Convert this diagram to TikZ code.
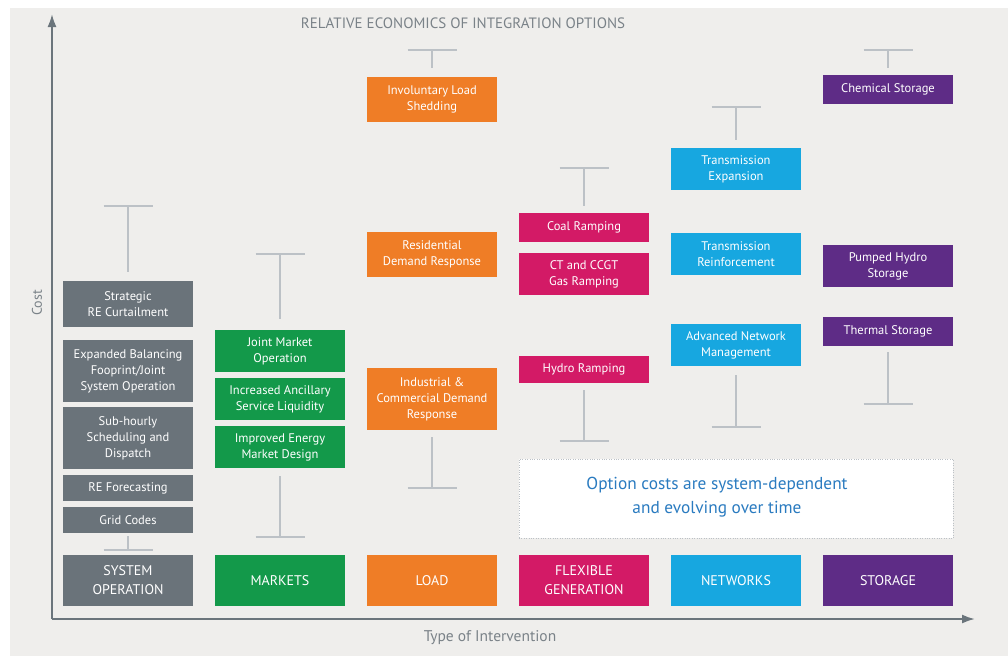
\documentclass[tikz,border=0pt]{standalone}
\usepackage{fontspec}
\setmainfont{PT Sans}
\usetikzlibrary{arrows.meta}

\definecolor{BgGray}{RGB}{239,238,236}
\definecolor{AxisGray}{RGB}{107,117,124}
\definecolor{LabelGray}{RGB}{122,130,136}
\definecolor{WhiskerGray}{RGB}{188,193,198}
\definecolor{SOGray}{RGB}{106,115,122}
\definecolor{MktGreen}{RGB}{19,153,74}
\definecolor{LoadOrange}{RGB}{239,125,38}
\definecolor{FlexMagenta}{RGB}{211,26,102}
\definecolor{NetCyan}{RGB}{23,167,224}
\definecolor{StorPurple}{RGB}{94,44,134}
\definecolor{NoteBlue}{RGB}{42,123,192}

\begin{document}
\begin{tikzpicture}[x=1pt,y=-1pt]
  \tikzset{BoxStyle/.style = {shape          = rectangle,
                              text           = white,
                              inner sep      = 0pt,
                              outer sep      = 0pt,
                              minimum width  = 130pt,
                              align          = center,
                              font           = \fontsize{12.5}{16}\selectfont}}
  \tikzset{CategoryStyle/.style = {BoxStyle,
                              minimum height = 51pt,
                              font           = \fontsize{14}{19}\selectfont}}
  \tikzset{SOStyle/.style    = {BoxStyle, fill = SOGray}}
  \tikzset{MktStyle/.style   = {BoxStyle, fill = MktGreen}}
  \tikzset{LoadStyle/.style  = {BoxStyle, fill = LoadOrange}}
  \tikzset{FlexStyle/.style  = {BoxStyle, fill = FlexMagenta}}
  \tikzset{NetStyle/.style   = {BoxStyle, fill = NetCyan}}
  \tikzset{StorStyle/.style  = {BoxStyle, fill = StorPurple}}
  \tikzset{WhiskerStyle/.style = {line width = 1.5pt,
                                  draw       = WhiskerGray}}
  \tikzset{AxisStyle/.style  = {line width = 2pt,
                                draw       = AxisGray,
                                -{Latex[length=13pt,width=9pt]}}}
  \tikzset{AxisLabelStyle/.style = {text = LabelGray,
                                    font = \fontsize{15}{18}\selectfont}}

\useasboundingbox (0,0) rectangle (1008,656);
\fill[white] (0,0) rectangle (1008,656);
\fill[BgGray] (10,8) rectangle (1008,656);

% axes
\coordinate (O)  at (52,619);
\coordinate (Y1) at (52,14);
\coordinate (X1) at (975,619);
\draw[AxisStyle] (O) -- (Y1);
\draw[AxisStyle] (O) -- (X1);

\node[AxisLabelStyle] (title) at (463,23) {RELATIVE ECONOMICS OF INTEGRATION OPTIONS};
\node[AxisLabelStyle, rotate=90, font=\fontsize{14}{17}\selectfont] (cost) at (37,303) {Cost};
\node[AxisLabelStyle, font=\fontsize{15.5}{18}\selectfont] (type) at (490,637.5) {Type of Intervention};

% categories
\node[CategoryStyle, fill=SOGray]      (so)   at (128,580.5) {SYSTEM\\OPERATION};
\node[CategoryStyle, fill=MktGreen]    (mkt)  at (280,580.5) {MARKETS};
\node[CategoryStyle, fill=LoadOrange]  (load) at (432,580.5) {LOAD};
\node[CategoryStyle, fill=FlexMagenta] (flex) at (584,580.5) {FLEXIBLE\\GENERATION};
\node[CategoryStyle, fill=NetCyan]     (net)  at (736,580.5) {NETWORKS};
\node[CategoryStyle, fill=StorPurple]  (stor) at (888,580.5) {STORAGE};

% system operation
\node[SOStyle, minimum height=46pt] (curtail)   at (128,304) {Strategic\\RE Curtailment};
\node[SOStyle, minimum height=62pt] (balancing) at (128,371) {Expanded Balancing\\Fooprint/Joint\\System Operation};
\node[SOStyle, minimum height=62pt] (subhourly) at (128,438) {Sub-hourly\\Scheduling and\\Dispatch};
\node[SOStyle, minimum height=26pt] (forecast)  at (128,488) {RE Forecasting};
\node[SOStyle, minimum height=26pt] (gridcodes) at (128,520) {Grid Codes};

% markets
\node[MktStyle, minimum height=42pt] (jointmkt)  at (280,351) {Joint Market\\Operation};
\node[MktStyle, minimum height=42pt] (ancillary) at (280,399) {Increased Ancillary\\Service Liquidity};
\node[MktStyle, minimum height=42pt] (energymkt) at (280,447) {Improved Energy\\Market Design};

% load
\node[LoadStyle, minimum height=45pt] (shedding)    at (432,99.5)  {Involuntary Load\\Shedding};
\node[LoadStyle, minimum height=45pt] (residential) at (432,254.5) {Residential\\Demand Response};
\node[LoadStyle, minimum height=62pt] (industrial)  at (432,399)   {Industrial \&\\Commercial Demand\\Response};

% flexible generation
\node[FlexStyle, minimum height=29pt] (coal)  at (584,227.5) {Coal Ramping};
\node[FlexStyle, minimum height=42pt] (gas)   at (584,274)   {CT and CCGT\\Gas Ramping};
\node[FlexStyle, minimum height=27pt] (hydro) at (584,369.5) {Hydro Ramping};

% networks
\node[NetStyle, minimum height=42pt] (expansion) at (736,169) {Transmission\\Expansion};
\node[NetStyle, minimum height=42pt] (reinforce) at (736,254) {Transmission\\Reinforcement};
\node[NetStyle, minimum height=42pt] (advanced)  at (736,345) {Advanced Network\\Management};

% storage
\node[StorStyle, minimum height=29pt] (chemical) at (888,89.5) {Chemical Storage};
\node[StorStyle, minimum height=42pt] (pumped)   at (888,266)  {Pumped Hydro\\Storage};
\node[StorStyle, minimum height=29pt] (thermal)  at (888,331.5) {Thermal Storage};

% cost ranges
\coordinate (SOhigh)   at (128,206);
\coordinate (SOlow)    at (128,550);
\coordinate (MKThigh)  at (280,254);
\coordinate (MKTlow)   at (280,537);
\coordinate (LOADhigh) at (432,50);
\coordinate (LOADlow)  at (432,488);
\coordinate (FLEXhigh) at (584,168);
\coordinate (FLEXlow)  at (584,441);
\coordinate (NEThigh)  at (736,107);
\coordinate (NETlow)   at (736,427);
\coordinate (STORhigh) at (888,50);
\coordinate (STORlow)  at (888,404);

\draw[WhiskerStyle] (SOhigh) -- ([yshift=9pt]curtail.north);
\draw[WhiskerStyle] (SOlow) -- ([yshift=-3pt]gridcodes.south);
\draw[WhiskerStyle] (MKThigh) -- ([yshift=11pt]jointmkt.north);
\draw[WhiskerStyle] (MKTlow) -- ([yshift=-8pt]energymkt.south);
\draw[WhiskerStyle] (LOADhigh) -- ([yshift=9pt]shedding.north);
\draw[WhiskerStyle] (LOADlow) -- ([yshift=-7pt]industrial.south);
\draw[WhiskerStyle] (FLEXhigh) -- ([yshift=7pt]coal.north);
\draw[WhiskerStyle] (FLEXlow) -- ([yshift=-7pt]hydro.south);
\draw[WhiskerStyle] (NEThigh) -- ([yshift=8pt]expansion.north);
\draw[WhiskerStyle] (NETlow) -- ([yshift=-9pt]advanced.south);
\draw[WhiskerStyle] (STORhigh) -- ([yshift=7pt]chemical.north);
\draw[WhiskerStyle] (STORlow) -- ([yshift=-6pt]thermal.south);

\foreach \c in {SOhigh,SOlow,MKThigh,MKTlow,LOADhigh,LOADlow,FLEXhigh,FLEXlow,NEThigh,NETlow,STORhigh,STORlow}
  \draw[WhiskerStyle] ([xshift=-24.5pt]\c) -- ([xshift=24.5pt]\c);

% note
\node[draw=WhiskerGray, dotted, fill=white, minimum width=434pt, minimum height=79pt,
      inner sep=0pt] (note) at (736,498.5) {};
\node[text=NoteBlue, align=center, font=\fontsize{17.3}{24}\selectfont] (notetext) at (717,497.5)
  {Option costs are system-dependent\\and evolving over time};

\end{tikzpicture}
\end{document}
